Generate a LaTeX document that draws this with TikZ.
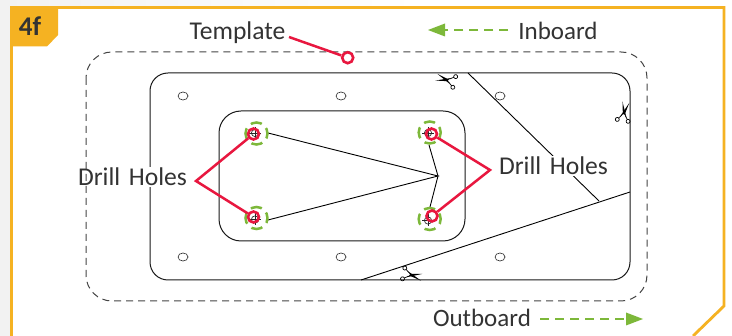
\documentclass[tikz,border=0pt]{standalone}
\usepackage{fontspec}
\setmainfont{Carlito}
\usetikzlibrary{arrows.meta,shapes.geometric}
\definecolor{frameY}{HTML}{F5B222}
\definecolor{markR}{HTML}{E8173F}
\definecolor{markG}{HTML}{7DB83A}
\definecolor{inkT}{HTML}{333333}
\definecolor{dashK}{HTML}{444444}
\definecolor{pageG}{HTML}{F2F2F2}
\tikzset{
  lab/.style={font=\fontsize{25.6}{28}\selectfont,text=inkT,inner sep=0pt,anchor=center},
  labsmall/.style={lab,font=\fontsize{25}{28}\selectfont},
  outline/.style={draw=black!90,line width=1pt,rounded corners=#1},
  dashedout/.style={draw=dashK,line width=1pt,dash pattern=on 7pt off 5pt,rounded corners=26pt},
  thinline/.style={draw=black,line width=.9pt},
  hole/.style={ellipse,draw=black!80,line width=.7pt,dash pattern=on 1.6pt off .4pt,minimum width=10pt,minimum height=8pt,inner sep=0pt},
  redring/.style={circle,draw=markR,line width=2.6pt,minimum size=11pt,inner sep=0pt},
  redline/.style={draw=markR,line width=2.5pt,miter limit=10},
  greenring/.style={circle,draw=markG,line width=2.5pt,minimum size=22pt,inner sep=0pt,dash pattern=on 11.3pt off 6pt,dash phase=5.6pt},
  greenarrow/.style={draw=markG,line width=2.5pt,dash pattern=on 9pt off 6pt},
  scissors/.pic={
    \draw[black,line width=.7pt] (-2.5,-1.8) -- (-6,-4.5) (-2.5,1.8) -- (-6,4.5);
    \draw[black,line width=.7pt] (-7.5,-5.5) circle (2) (-7.5,5.5) circle (2);
    \fill[black] (-3.5,-3) -- (11,3.5) -- (0,1.2) -- cycle;
    \fill[black] (-3.5,3) -- (11,-3.5) -- (0,-1.2) -- cycle;
  }
}
\newcommand{\crosshole}[2]{%
  \draw[black!80,line width=.7pt] (#1,#2) circle (3.6);
  \draw[black!85,line width=.7pt] ({#1-6},#2) -- ({#1+6},#2) (#1,{#2-6}) -- (#1,{#2+6});
}
\begin{document}
\begin{tikzpicture}[x=1pt,y=-1pt]
\useasboundingbox (0,0) rectangle (732,336);
\fill[white] (0,0) rectangle (732,336);
\fill[pageG] (0,0) rectangle (11,336);
\shade[left color=pageG,right color=white] (0,0) rectangle (420,6);
% frame
\draw[frameY,line width=2.8pt] (11.5,336) -- (11.5,7.5) -- (724,7.5) -- (724,306) -- (693,336);
\fill[frameY] (10.2,6.2) -- (58,6.2) -- (58,35) -- (47,46.5) -- (10.2,46.5) -- cycle;
\node[font=\fontsize{27}{29}\selectfont\bfseries,text=inkT,inner sep=0pt] (tab) at (30,26) {4f};
% template plate
\draw[outline=18pt] (150,73) rectangle (630,280);
\draw[outline=22pt] (219,111) rectangle (465,241);
% cut lines
\coordinate (diagA) at (468,73);
\coordinate (diagB) at (599,201);
\coordinate (botA) at (361,280);
\coordinate (botB) at (630,192);
\coordinate (fan) at (438,176);
\draw[thinline] (diagA) -- (diagB);
\draw[thinline] (botA) -- (botB);
\foreach \n/\x/\y in {h1/183/96,h2/341/96,h3/500/96,h4/183/257,h5/341/257,h6/500/257}
  \node[hole,fill=white] (\n) at (\x,\y) {};
% labels with white backing
\node[lab,fill=white,inner ysep=1pt,text width=109pt,align=center] (drillL) at (132.5,177) {Drill Holes};
\node[lab,fill=white,inner ysep=1pt,text width=109pt,align=center] (drillR) at (553.5,166) {Drill Holes};
\draw[dashedout] (86,52) rectangle (647,301);
% fan lines
\coordinate (fanUL) at (268,133);
\coordinate (fanLL) at (268,220);
\coordinate (fanUR) at (429,145);
\coordinate (fanLR) at (430,207);
\draw[thinline] (fanUL) -- (fan) -- (fanLL);
\draw[thinline] (fanUR) -- (fan) -- (fanLR);
% scissors
\pic[rotate=165] at (447,80) {scissors};
\pic[rotate=80] at (624,113) {scissors};
\pic[rotate=-12] at (411,275) {scissors};
% drill points
\crosshole{255}{133}
\crosshole{255}{219.5}
\crosshole{428}{133}
\crosshole{428}{220.5}
\node[greenring] (gUL) at (256.5,133.5) {};
\node[greenring] (gLL) at (256.5,218) {};
\node[greenring] (gUR) at (429.7,132.5) {};
\node[greenring] (gLR) at (429.7,219) {};
% red callouts
\node[redring] (rUL) at (253.5,134) {};
\node[redring] (rLL) at (253.5,217) {};
\node[redring] (rUR) at (431.5,134) {};
\node[redring] (rLR) at (432,216) {};
\node[redring] (rT) at (347.7,57.7) {};
\coordinate (vL) at (196,181);
\coordinate (vR) at (490,170);
\coordinate (tplEnd) at (289,37);
\draw[redline] (rUL) -- (vL) -- (rLL);
\draw[redline] (rUR) -- (vR) -- (rLR);
\draw[redline] (tplEnd) -- (rT);
% labels
\node[lab] (tpl) at (237.5,32.5) {Template};
\node[labsmall] (inb) at (558,30.5) {Inboard};
\node[labsmall] (outb) at (482,318) {Outboard};
% green arrows
\coordinate (inTail) at (508,30);
\coordinate (inTip) at (444,30);
\coordinate (inHead) at (428,30);
\coordinate (outTail) at (540,319);
\coordinate (outTip) at (626,319);
\coordinate (outHead) at (643,319);
\draw[greenarrow] (inTail) -- (inTip);
\fill[markG] (inHead) -- (445,23.5) -- (445,36.5) -- cycle;
\draw[greenarrow] (outTail) -- (outTip);
\fill[markG] (outHead) -- (626,312.5) -- (626,325.5) -- cycle;
\end{tikzpicture}
\end{document}
